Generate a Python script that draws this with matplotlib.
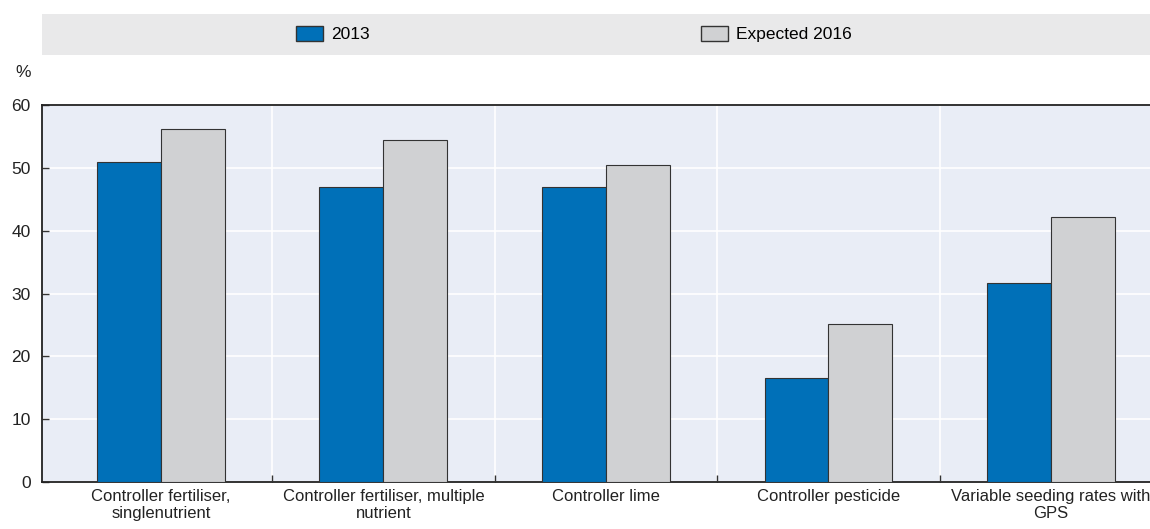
import numpy as np
import matplotlib.pyplot as plt
from matplotlib.patches import Rectangle, Patch

categories = ['Controller fertiliser,\nsinglenutrient',
              'Controller fertiliser, multiple\nnutrient',
              'Controller lime',
              'Controller pesticide',
              'Variable seeding rates with\nGPS']
y2013 = [50.9, 47.0, 47.0, 16.5, 31.7]
y2016 = [56.2, 54.5, 50.4, 25.2, 42.2]
series = ['2013', 'Expected 2016']

blue = '#0070B8'
grey = '#D0D1D3'

plt.rcParams['font.family'] = ['Liberation Sans Narrow', 'Liberation Sans', 'DejaVu Sans']

fig = plt.figure(figsize=(11.5, 5.29), dpi=100)
ax = fig.add_axes([0.0365, 0.0888, 0.9635, 0.7127])
ax.set_facecolor('#E9EDF6')

x = np.arange(len(categories))
w = 0.287
ax.bar(x - w / 2, y2013, w, color=blue, edgecolor='#333333', linewidth=0.8, zorder=3)
ax.bar(x + w / 2, y2016, w, color=grey, edgecolor='#333333', linewidth=0.8, zorder=3)

ax.set_ylim(0, 60)
ax.set_xlim(-0.534, 4.445)
ax.set_yticks(range(0, 61, 10))
ax.set_xticks(x)
ax.set_xticklabels(categories, linespacing=1.2)
ax.set_xticks(x[:-1] + 0.5, minor=True)

ax.grid(axis='y', color='white', linewidth=1.2, zorder=1)
for b in x[:-1] + 0.5:
    ax.axvline(b, color='white', linewidth=1.2, zorder=1)

ax.tick_params(axis='x', which='major', length=0, labelsize=12, pad=5, colors='#222222')
ax.tick_params(axis='x', which='minor', length=5, direction='in', width=1, color='#333333')
ax.tick_params(axis='y', length=5, direction='in', width=1, labelsize=12.5,
               pad=8, colors='#222222', color='#333333')
for s in ['left', 'bottom', 'top']:
    ax.spines[s].set_color('#222222')
    ax.spines[s].set_linewidth(1.3)
ax.spines['right'].set_visible(False)

fig.text(0.013, 0.855, '%', fontsize=12.5, color='#222222')

# legend band above the plot
band = Rectangle((0.0365, 0.896), 0.9635, 0.078, transform=fig.transFigure,
                 facecolor='#E9E9EA', edgecolor='none')
fig.patches.append(band)
handles = [Patch(facecolor=blue, edgecolor='#333333'), Patch(facecolor=grey, edgecolor='#333333')]
legend_kw = dict(frameon=False, fontsize=12.5, handlelength=1.55, handleheight=0.9,
                 handletextpad=0.5)
fig.legend(handles[:1], series[:1], loc='center left', bbox_to_anchor=(0.2435, 0.935), **legend_kw)
fig.legend(handles[1:], series[1:], loc='center left', bbox_to_anchor=(0.5957, 0.935), **legend_kw)

fig.savefig('out.png', dpi=100)
